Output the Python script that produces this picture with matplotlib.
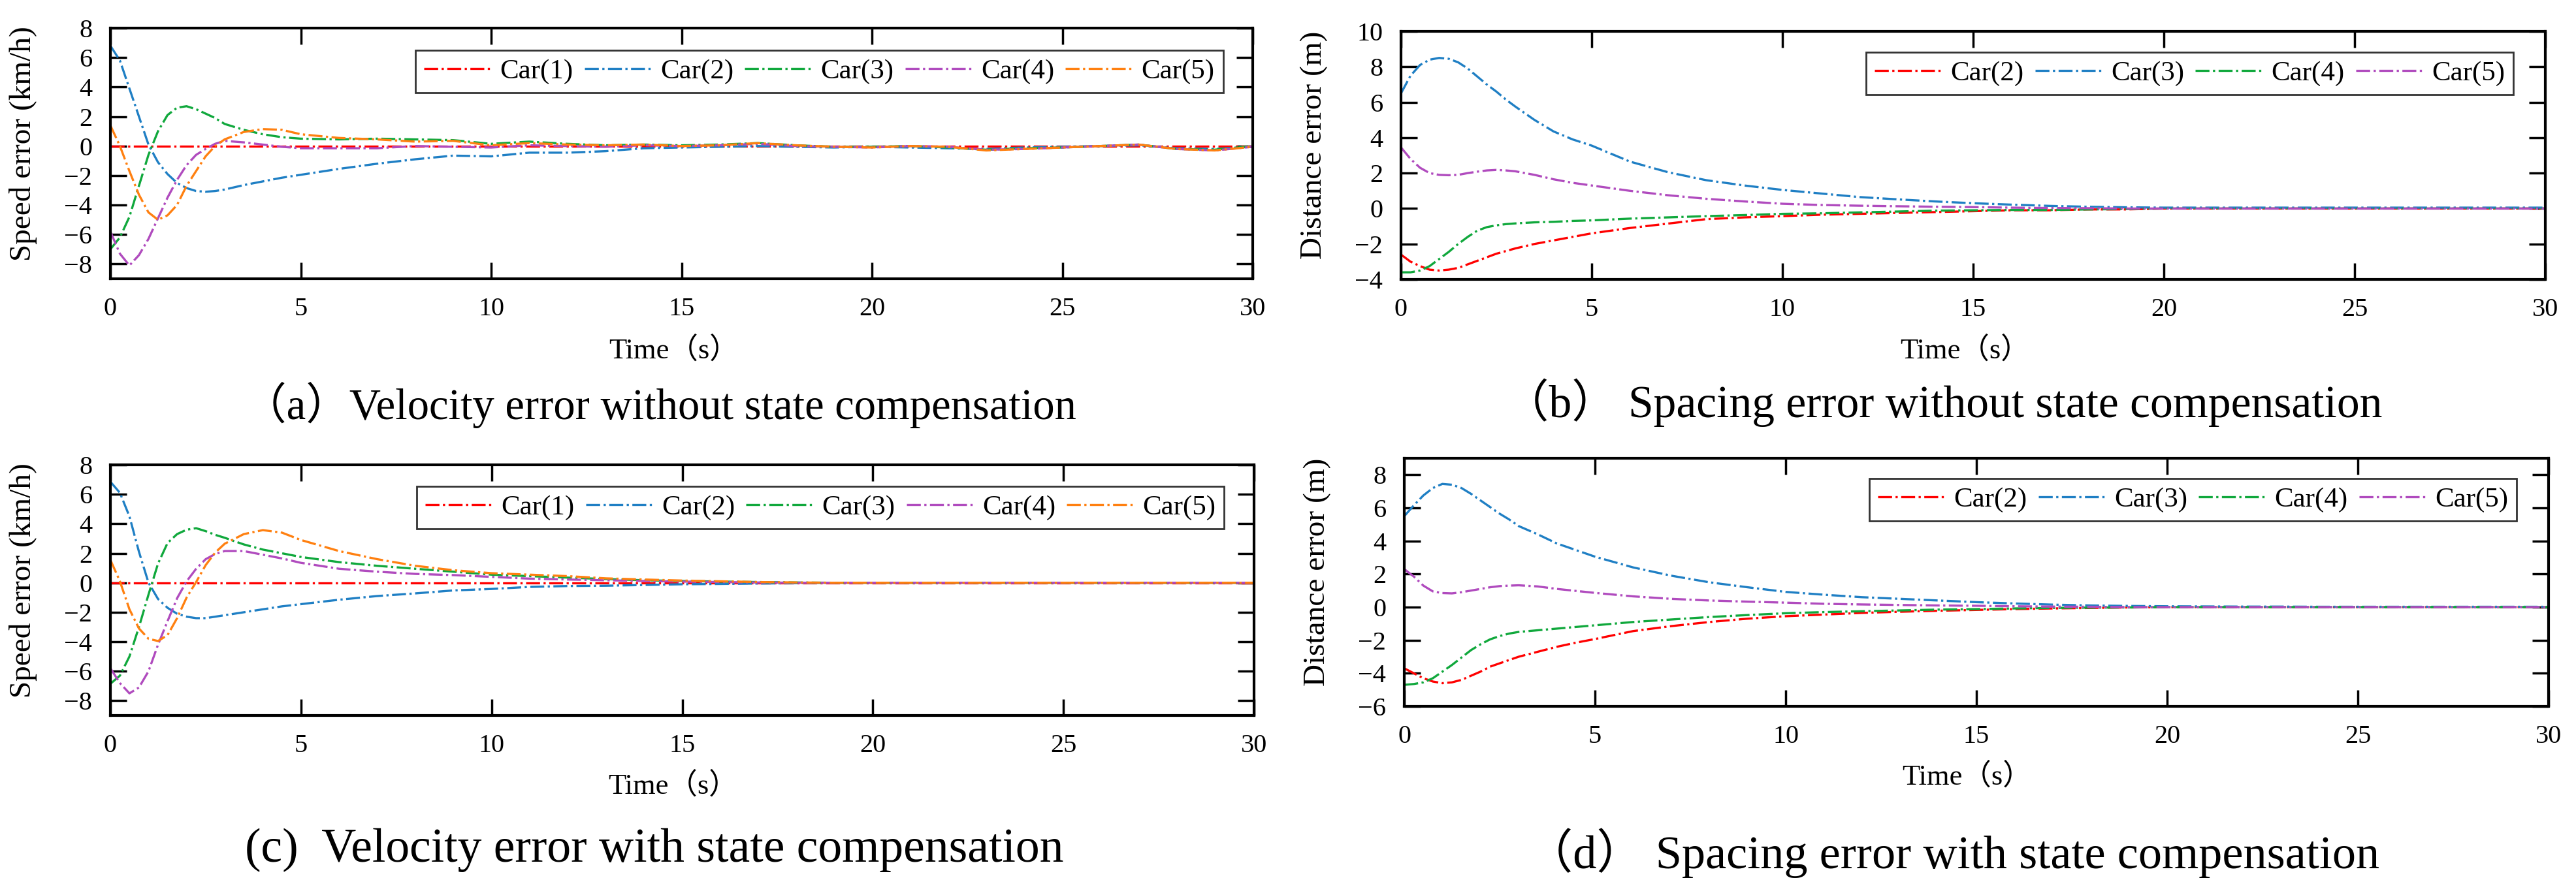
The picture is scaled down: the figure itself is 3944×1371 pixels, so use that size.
import matplotlib
matplotlib.use('Agg')
import matplotlib.pyplot as plt

# time grid (s) used for all panels
t = [0, 0.25, 0.5, 0.75, 1.0, 1.25, 1.5, 1.75, 2.0, 2.25, 2.5, 2.75, 3.0, 3.5, 4.0, 4.5,
     5, 6, 7, 8, 9, 10, 11, 12, 13, 14, 15, 16, 17, 18, 19, 20, 21, 22, 23, 24, 25, 26, 27, 28, 29, 30]

# (a) velocity error without state compensation (km/h)
a_car1 = [0, 0, 0, 0, 0, 0, 0, 0, 0, 0, 0, 0, 0, 0, 0, 0,
          0, 0, 0, 0, 0, 0, 0, 0, 0, 0, 0, 0, 0, 0, 0, 0, 0, 0, 0, 0, 0, 0, 0, 0, 0, 0]
a_car2 = [6.8, 5.8, 3.9, 2.0, 0.1, -1.1, -1.9, -2.5, -2.85, -3.05, -3.1, -3.05, -2.95, -2.65, -2.4, -2.15,
          -1.95, -1.55, -1.2, -0.9, -0.65, -0.7, -0.45, -0.45, -0.35, -0.15, -0.1, -0.05, 0.0, -0.05, -0.1, -0.05,
          -0.1, -0.15, -0.2, -0.1, -0.05, 0.0, 0.05, -0.15, -0.2, -0.05]
a_car3 = [-7.0, -6.2, -4.8, -2.7, -0.6, 1.0, 2.1, 2.6, 2.7, 2.5, 2.2, 1.9, 1.5, 1.1, 0.8, 0.6,
          0.5, 0.45, 0.5, 0.45, 0.4, 0.15, 0.3, 0.15, 0.05, 0.1, 0.05, 0.1, 0.2, 0.05, -0.05, -0.05,
          0.0, -0.1, -0.25, -0.15, -0.1, 0.0, 0.1, -0.2, -0.25, 0.0]
a_car4 = [-5.8, -7.3, -8.1, -7.4, -6.3, -4.9, -3.5, -2.3, -1.3, -0.6, -0.2, 0.15, 0.35, 0.25, 0.1, -0.05,
          -0.15, -0.15, -0.15, 0.0, -0.05, -0.1, 0.05, 0.0, -0.05, 0.05, 0.0, 0.05, 0.15, 0.0, -0.05, -0.1,
          0.0, -0.05, -0.25, -0.2, -0.1, 0.0, 0.1, -0.2, -0.3, -0.05]
a_car5 = [1.4, 0.0, -1.7, -3.3, -4.5, -5.0, -4.7, -4.0, -2.7, -1.7, -0.7, 0.0, 0.45, 0.95, 1.15, 1.1,
          0.8, 0.55, 0.45, 0.3, 0.35, 0.05, 0.2, 0.1, 0.05, 0.1, 0.0, 0.05, 0.2, 0.05, -0.05, -0.1,
          0.0, -0.05, -0.3, -0.2, -0.1, 0.0, 0.1, -0.2, -0.3, -0.05]

# (b) spacing error without state compensation (m)
b_car2 = [-2.6, -3.0, -3.25, -3.45, -3.5, -3.45, -3.35, -3.15, -2.95, -2.75, -2.55, -2.4, -2.25, -2.0, -1.8, -1.6,
          -1.4, -1.1, -0.85, -0.6, -0.5, -0.43, -0.35, -0.3, -0.25, -0.2, -0.15, -0.1, -0.1, -0.05, -0.05, 0.0,
          0.0, 0.0, 0.0, 0.0, 0.0, 0.0, 0.0, 0.0, 0.0, 0.0]
b_car3 = [6.5, 7.5, 8.1, 8.4, 8.5, 8.45, 8.25, 7.9, 7.45, 7.0, 6.6, 6.15, 5.75, 5.0, 4.35, 3.9,
          3.55, 2.65, 2.05, 1.6, 1.3, 1.05, 0.85, 0.65, 0.52, 0.4, 0.3, 0.22, 0.15, 0.1, 0.07, 0.05,
          0.05, 0.05, 0.05, 0.05, 0.05, 0.05, 0.05, 0.05, 0.05, 0.05]
b_car4 = [-3.6, -3.6, -3.5, -3.25, -2.85, -2.45, -2.0, -1.6, -1.25, -1.05, -0.95, -0.88, -0.84, -0.78, -0.75, -0.7,
          -0.67, -0.57, -0.5, -0.43, -0.37, -0.3, -0.27, -0.22, -0.17, -0.12, -0.1, -0.08, -0.08, -0.05, -0.03, 0.0,
          0.0, 0.0, 0.0, 0.0, 0.0, 0.0, 0.0, 0.0, 0.0, 0.0]
b_car5 = [3.45, 2.8, 2.3, 2.0, 1.9, 1.88, 1.9, 2.0, 2.08, 2.15, 2.18, 2.15, 2.1, 1.9, 1.65, 1.45,
          1.3, 1.0, 0.75, 0.55, 0.4, 0.27, 0.2, 0.16, 0.13, 0.1, 0.08, 0.05, 0.03, 0.02, 0.0, 0.0,
          0.0, 0.0, 0.0, 0.0, 0.0, 0.0, 0.0, 0.0, 0.0, 0.0]

# (c) velocity error with state compensation (km/h)
c_car1 = [0, 0, 0, 0, 0, 0, 0, 0, 0, 0, 0, 0, 0, 0, 0, 0,
          0, 0, 0, 0, 0, 0, 0, 0, 0, 0, 0, 0, 0, 0, 0, 0, 0, 0, 0, 0, 0, 0, 0, 0, 0, 0]
c_car2 = [6.85, 6.1, 4.5, 2.1, 0.0, -1.1, -1.7, -2.1, -2.3, -2.4, -2.4, -2.3, -2.2, -2.0, -1.8, -1.6,
          -1.45, -1.15, -0.9, -0.72, -0.52, -0.42, -0.28, -0.22, -0.2, -0.15, -0.1, -0.08, -0.05, -0.03, 0.0, 0.0,
          0.0, 0.0, 0.0, 0.0, 0.0, 0.0, 0.0, 0.0, 0.0, 0.0]
c_car3 = [-6.85, -6.3, -5.0, -3.0, -0.8, 1.3, 2.7, 3.3, 3.6, 3.7, 3.5, 3.25, 3.05, 2.6, 2.25, 2.0,
          1.75, 1.4, 1.15, 0.95, 0.75, 0.55, 0.45, 0.35, 0.25, 0.17, 0.12, 0.08, 0.05, 0.02, 0.0, 0.0,
          0.0, 0.0, 0.0, 0.0, 0.0, 0.0, 0.0, 0.0, 0.0, 0.0]
c_car4 = [-5.8, -6.8, -7.5, -7.1, -6.0, -4.2, -2.6, -1.05, 0.1, 0.95, 1.6, 1.95, 2.15, 2.15, 1.9, 1.65,
          1.35, 0.95, 0.75, 0.6, 0.52, 0.4, 0.28, 0.22, 0.17, 0.12, 0.08, 0.05, 0.02, 0.0, 0.0, 0.0,
          0.0, 0.0, 0.0, 0.0, 0.0, 0.0, 0.0, 0.0, 0.0, 0.0]
c_car5 = [1.55, 0.1, -1.8, -3.1, -3.8, -3.95, -3.55, -2.4, -1.0, 0.05, 1.2, 2.05, 2.65, 3.3, 3.57, 3.4,
          2.9, 2.15, 1.6, 1.15, 0.85, 0.65, 0.55, 0.45, 0.3, 0.22, 0.15, 0.1, 0.05, 0.02, 0.0, 0.0,
          0.0, 0.0, 0.0, 0.0, 0.0, 0.0, 0.0, 0.0, 0.0, 0.0]

# (d) spacing error with state compensation (m)
d_car2 = [-3.7, -4.0, -4.3, -4.5, -4.6, -4.55, -4.4, -4.15, -3.9, -3.6, -3.4, -3.2, -3.0, -2.7, -2.4, -2.15,
          -1.93, -1.45, -1.15, -0.9, -0.7, -0.55, -0.45, -0.35, -0.28, -0.22, -0.17, -0.12, -0.08, -0.05, -0.02, 0.0,
          0.0, 0.0, 0.0, 0.0, 0.0, 0.0, 0.0, 0.0, 0.0, 0.0]
d_car3 = [5.5, 6.15, 6.75, 7.2, 7.45, 7.4, 7.2, 6.85, 6.45, 6.05, 5.65, 5.3, 4.9, 4.4, 3.85, 3.45,
          3.05, 2.4, 1.9, 1.5, 1.2, 0.92, 0.75, 0.6, 0.5, 0.4, 0.3, 0.22, 0.15, 0.1, 0.07, 0.05,
          0.04, 0.03, 0.03, 0.02, 0.02, 0.02, 0.02, 0.02, 0.02, 0.02]
d_car4 = [-4.7, -4.65, -4.55, -4.3, -3.9, -3.5, -3.05, -2.6, -2.25, -1.95, -1.75, -1.6, -1.5, -1.4, -1.3, -1.2,
          -1.1, -0.9, -0.75, -0.6, -0.48, -0.37, -0.3, -0.25, -0.2, -0.15, -0.12, -0.08, -0.05, -0.03, -0.02, 0.0,
          0.0, 0.0, 0.0, 0.0, 0.0, 0.0, 0.0, 0.0, 0.0, 0.0]
d_car5 = [2.3, 1.85, 1.3, 0.95, 0.85, 0.83, 0.9, 1.0, 1.1, 1.2, 1.27, 1.3, 1.32, 1.25, 1.1, 0.98,
          0.86, 0.65, 0.5, 0.4, 0.33, 0.27, 0.2, 0.16, 0.13, 0.1, 0.08, 0.05, 0.03, 0.02, 0.0, 0.0,
          0.0, 0.0, 0.0, 0.0, 0.0, 0.0, 0.0, 0.0, 0.0, 0.0]

colors = {"Car(1)": "#FF0000", "Car(2)": "#1F7FC4", "Car(3)": "#10A83C",
          "Car(4)": "#B04BBE", "Car(5)": "#FF8010"}
# panels (b)/(d): Car(2) red ... Car(5) purple
colors_sp = {"Car(2)": "#FF0000", "Car(3)": "#1F7FC4", "Car(4)": "#10A83C", "Car(5)": "#B04BBE"}

plt.rcParams['font.family'] = 'serif'
plt.rcParams['font.serif'] = ['Liberation Serif']
MIXED = ['Liberation Serif', 'Noto Sans CJK SC']  # for the full-width brackets

W, H = 3944, 1371
fig = plt.figure(figsize=(W / 100, H / 100), dpi=100)


def px_axes(left, top, right, bottom):
    return fig.add_axes([left / W, 1 - bottom / H, (right - left) / W, (bottom - top) / H])


def style(ax, ylim, yticks, ylabel, leg_anchor, ncol):
    ax.set_xlim(0, 30)
    ax.set_ylim(*ylim)
    ax.set_xticks([0, 5, 10, 15, 20, 25, 30])
    ax.set_yticks(yticks)
    ax.tick_params(direction='in', top=True, right=True, length=18, width=2.5,
                   labelsize=29)
    ax.tick_params(axis='x', pad=20)
    ax.tick_params(axis='y', pad=20)
    for sp in ax.spines.values():
        sp.set_linewidth(3)
    ax.set_ylabel(ylabel, fontsize=34)
    ax.yaxis.set_label_coords(-0.064, 0.54)
    lgd = ax.legend(loc='upper right', bbox_to_anchor=leg_anchor, ncol=ncol,
                    fontsize=31, handlelength=2.4, handletextpad=0.3,
                    columnspacing=0.4, borderpad=0.3, borderaxespad=0,
                    fancybox=False, framealpha=1)
    lgd.get_frame().set_edgecolor('#333333')
    lgd.get_frame().set_linewidth(2)


lw = 2.4

# (a)
ax = px_axes(169, 43, 1918, 427)
for name, ys in zip(["Car(1)", "Car(2)", "Car(3)", "Car(4)", "Car(5)"],
                    [a_car1, a_car2, a_car3, a_car4, a_car5]):
    ax.plot(t, ys, linestyle='-.', color=colors[name], lw=lw, label=name)
style(ax, (-9, 8), range(-8, 9, 2), 'Speed error (km/h)', (0.974, 0.911), 5)

# (b)
ax = px_axes(2145, 48, 3897, 428)
for name, ys in zip(["Car(2)", "Car(3)", "Car(4)", "Car(5)"],
                    [b_car2, b_car3, b_car4, b_car5]):
    ax.plot(t, ys, linestyle='-.', color=colors_sp[name], lw=lw, label=name)
style(ax, (-4, 10), range(-4, 11, 2), 'Distance error (m)', (0.972, 0.916), 4)

# (c)
ax = px_axes(169, 712, 1920, 1096)
for name, ys in zip(["Car(1)", "Car(2)", "Car(3)", "Car(4)", "Car(5)"],
                    [c_car1, c_car2, c_car3, c_car4, c_car5]):
    ax.plot(t, ys, linestyle='-.', color=colors[name], lw=lw, label=name)
style(ax, (-9, 8), range(-8, 9, 2), 'Speed error (km/h)', (0.974, 0.914), 5)

# (d)
ax = px_axes(2150, 702, 3902, 1082)
for name, ys in zip(["Car(2)", "Car(3)", "Car(4)", "Car(5)"],
                    [d_car2, d_car3, d_car4, d_car5]):
    ax.plot(t, ys, linestyle='-.', color=colors_sp[name], lw=lw, label=name)
style(ax, (-6, 9), range(-6, 9, 2), 'Distance error (m)', (0.972, 0.918), 4)

# x-axis labels and sub-captions
for x, y in [(1032, 537), (3009, 537), (1031, 1204), (3012, 1190)]:
    fig.text(x / W, 1 - y / H, 'Time（s）', ha='center', va='center', fontsize=32,
             family=MIXED)

fig.text(1010 / W, 1 - 620 / H, '（a）Velocity error without state compensation',
         ha='center', va='center', fontsize=48, family=MIXED)
fig.text(2975 / W, 1 - 617 / H, '（b） Spacing error without state compensation',
         ha='center', va='center', fontsize=50, family=MIXED)
fig.text(1002 / W, 1 - 1302 / H, '(c)  Velocity error with state compensation',
         ha='center', va='center', fontsize=53)
fig.text(2990 / W, 1 - 1307 / H, '（d） Spacing error with state compensation',
         ha='center', va='center', fontsize=52, family=MIXED)

fig.savefig('out.png', dpi=100, facecolor='white')
